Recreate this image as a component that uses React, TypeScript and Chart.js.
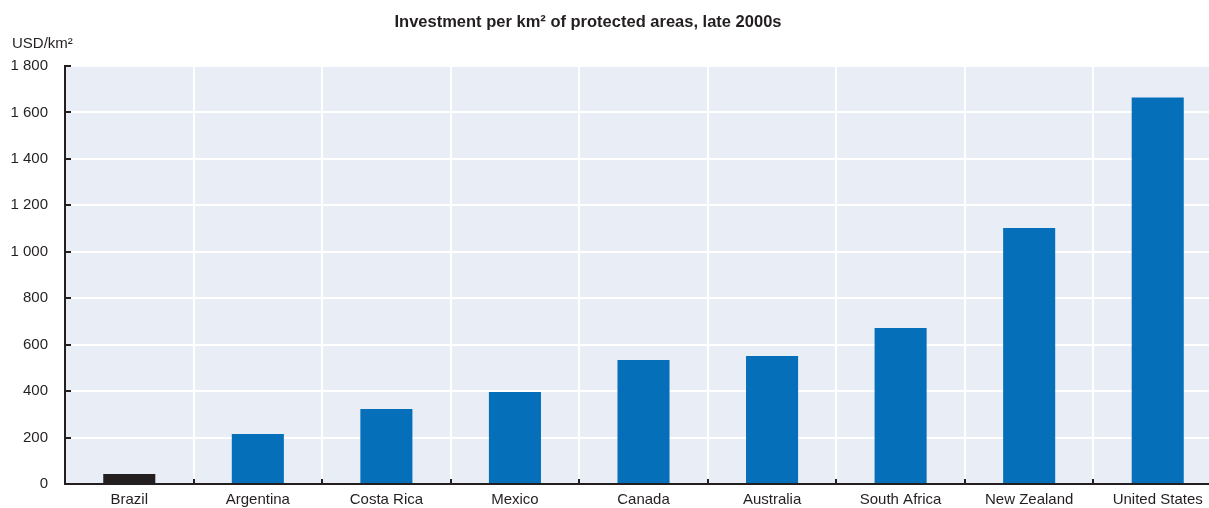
import React, { useEffect, useRef } from "react";
import { Chart, registerables } from "chart.js";

Chart.register(...registerables);

const categories = ["Brazil", "Argentina", "Costa Rica", "Mexico", "Canada", "Australia", "South Africa", "New Zealand", "United States"];
const values = [43, 215, 323, 396, 534, 551, 672, 1102, 1664];
const barColors = ["#231F20", "#066FBA", "#066FBA", "#066FBA", "#066FBA", "#066FBA", "#066FBA", "#066FBA", "#066FBA"];
const yTicks = [0, 200, 400, 600, 800, 1000, 1200, 1400, 1600, 1800];
const titleText = "Investment per km² of protected areas, late 2000s";
const unitText = "USD/km²";

const FONT = "'Liberation Sans', Arial, sans-serif";

const fmt = (v: number) => {
  const s = String(Math.round(v));
  return s.replace(/\B(?=(\d{3})+(?!\d))/g, " ");
};

const decorPlugin = {
  id: "decor",
  beforeDraw(chart: any) {
    const { ctx, chartArea } = chart;
    ctx.save();
    ctx.fillStyle = "#E9EDF6";
    ctx.fillRect(chartArea.left, chartArea.top, chartArea.right - chartArea.left, chartArea.bottom - chartArea.top);
    ctx.restore();
  },
  afterDraw(chart: any) {
    const { ctx, chartArea, scales } = chart;
    ctx.save();
    ctx.strokeStyle = "#231F20";
    ctx.lineWidth = 2;
    const xs = scales.x;
    const ys = scales.y;
    const half = (xs.getPixelForValue(1) - xs.getPixelForValue(0)) / 2;
    ctx.beginPath();
    for (let i = 1; i < categories.length; i++) {
      const px = Math.round(xs.getPixelForValue(i) - half);
      ctx.moveTo(px, chartArea.bottom);
      ctx.lineTo(px, chartArea.bottom - 5);
    }
    for (const v of yTicks) {
      if (v === 0) continue;
      const py = Math.round(ys.getPixelForValue(v));
      ctx.moveTo(chartArea.left, py);
      ctx.lineTo(chartArea.left + 6, py);
    }
    ctx.stroke();
    ctx.fillStyle = "#231F20";
    ctx.textBaseline = "middle";
    ctx.textAlign = "center";
    ctx.font = "bold 16.5px " + FONT;
    ctx.fillText(titleText, 588, 22);
    ctx.textAlign = "left";
    ctx.font = "15px " + FONT;
    ctx.fillText(unitText, 12, 44);
    ctx.restore();
  },
};

export default function App() {
  const ref = useRef<HTMLCanvasElement | null>(null);
  useEffect(() => {
    document.body.style.margin = "0";
    const canvas = ref.current!;
    const chart = new Chart(canvas, {
      type: "bar",
      data: {
        labels: categories,
        datasets: [
          {
            data: values,
            backgroundColor: barColors,
            barPercentage: 0.405,
            categoryPercentage: 1,
          },
        ],
      },
      options: {
        animation: false,
        responsive: false,
        devicePixelRatio: 1,
        layout: { padding: { top: 66, right: 0, left: 0, bottom: 0 } },
        plugins: { legend: { display: false }, tooltip: { enabled: false }, title: { display: false } },
        scales: {
          x: {
            offset: true,
            grid: { color: "#FFFFFF", lineWidth: 2, offset: true, drawTicks: true, tickLength: 5, tickColor: "rgba(0,0,0,0)" },
            border: { color: "#231F20", width: 2 },
            ticks: { color: "#231F20", font: { family: FONT, size: 15 }, padding: 2, maxRotation: 0 },
            afterFit: (s: any) => { s.height = 24; },
          },
          y: {
            min: 0,
            max: 1800,
            afterBuildTicks: (s: any) => { s.ticks = yTicks.map((v) => ({ value: v })); },
            grid: { color: "#FFFFFF", lineWidth: 2, drawTicks: true, tickLength: 5, tickColor: "rgba(0,0,0,0)" },
            border: { color: "#231F20", width: 2 },
            ticks: { color: "#231F20", font: { family: FONT, size: 15 }, padding: 12, callback: (v: any) => fmt(Number(v)) },
            afterFit: (s: any) => { s.width = 65; },
          },
        },
      },
      plugins: [decorPlugin],
    });
    return () => chart.destroy();
  }, []);
  return (
    <div style={{ width: 1209, height: 508, overflow: "hidden" }}>
      <canvas ref={ref} width={1222} height={508} style={{ display: "block" }} />
    </div>
  );
}
